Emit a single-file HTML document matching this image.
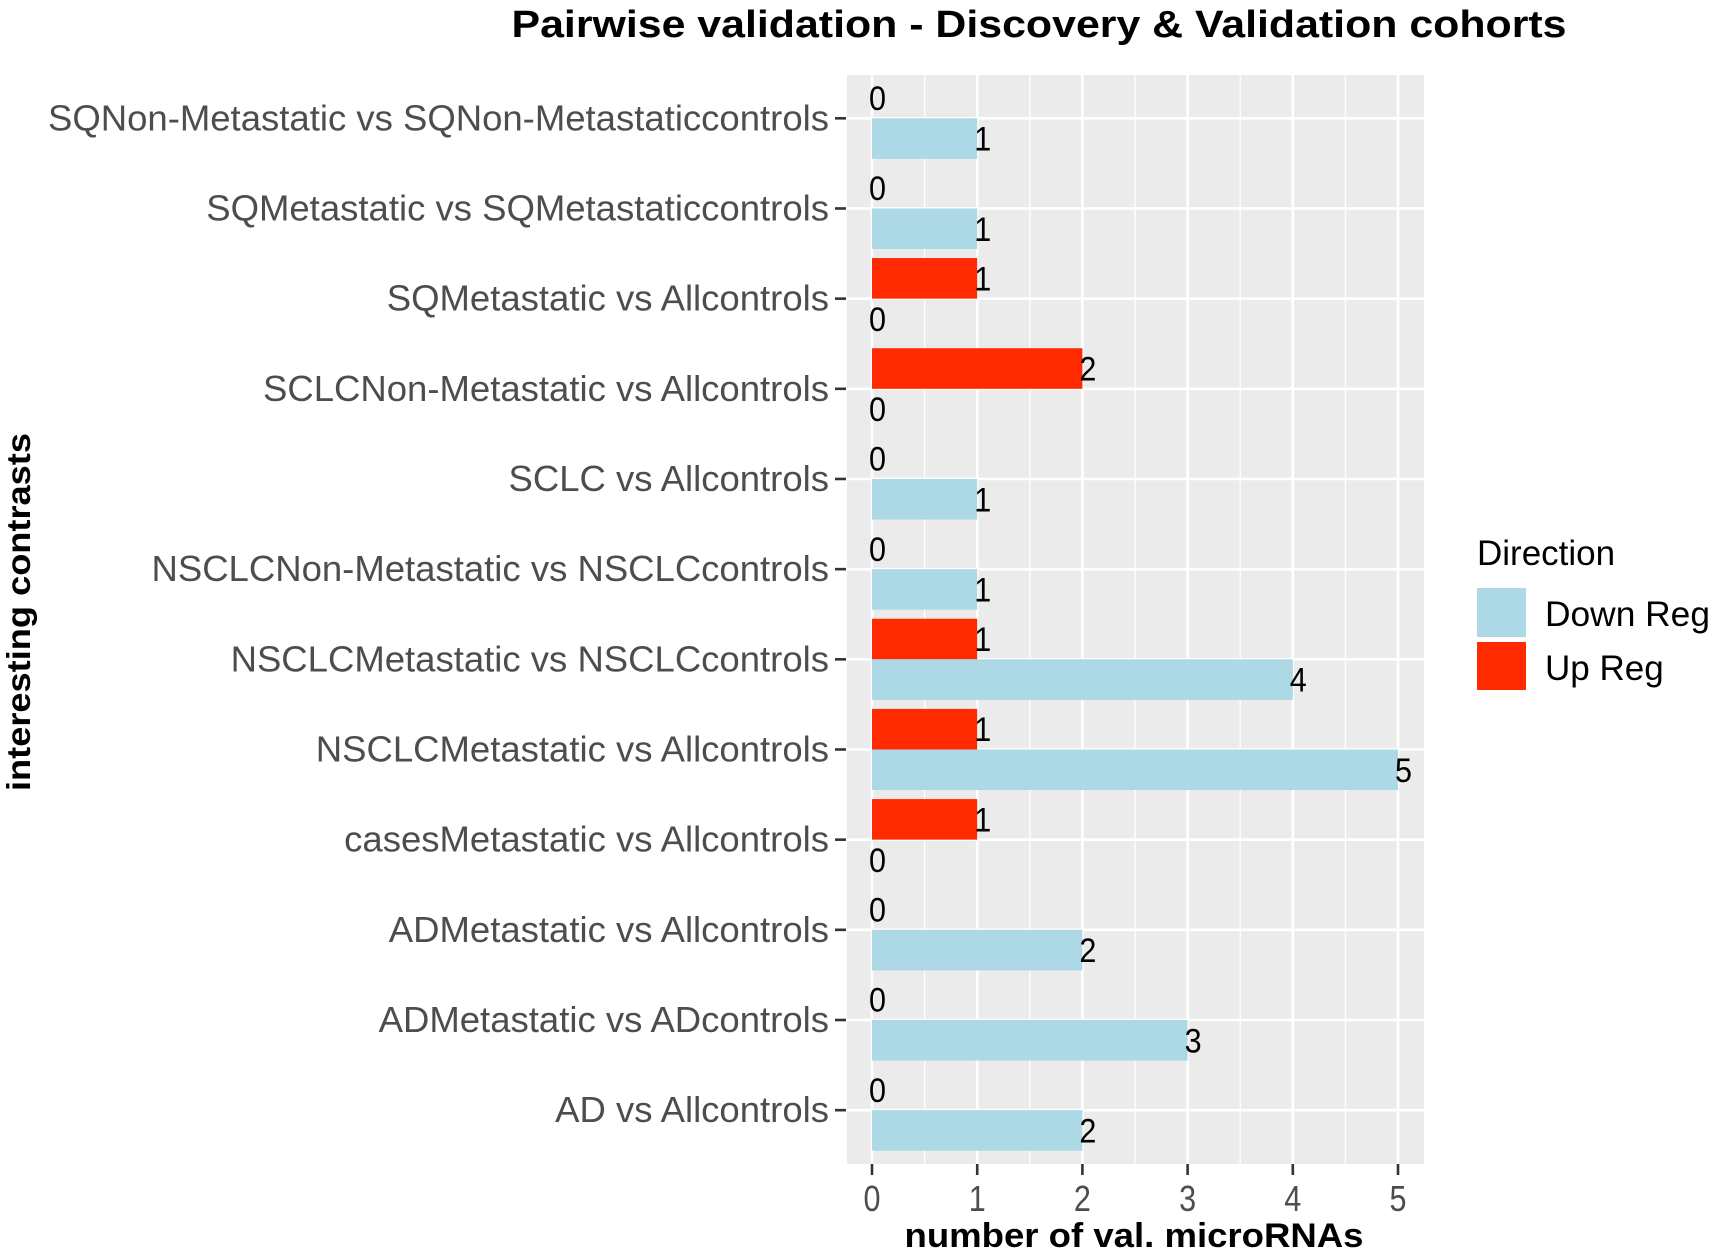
<!DOCTYPE html>
<html><head><meta charset="utf-8"><style>
html,body{margin:0;padding:0;background:#fff;}
svg{display:block;font-family:"Liberation Sans",Arial,sans-serif;}
</style></head><body>
<svg id="chart" width="1718" height="1254" viewBox="0 0 1718 1254">
<text x="1039" y="37" text-anchor="middle" font-size="38" font-weight="bold" textLength="1055" lengthAdjust="spacingAndGlyphs">Pairwise validation - Discovery &amp; Validation cohorts</text>
<rect x="847" y="75" width="577" height="1089" fill="#ebebeb"/>
<g id="grid"></g><g id="bars"></g><g id="labels"></g><g id="yaxis"></g><g id="xaxis"></g>
<text x="1134" y="1247" text-anchor="middle" font-size="34" font-weight="bold" textLength="459" lengthAdjust="spacingAndGlyphs">number of val. microRNAs</text>
<text transform="translate(30,612) rotate(-90)" text-anchor="middle" font-size="33" font-weight="bold" textLength="358" lengthAdjust="spacingAndGlyphs">interesting contrasts</text>
<g>
<text x="1477" y="565" font-size="35" fill="#000">Direction</text>
<rect x="1477" y="588" width="49" height="49" fill="#add8e6"/>
<text x="1545" y="626" font-size="35" fill="#000" textLength="165" lengthAdjust="spacingAndGlyphs">Down Reg</text>
<rect x="1477" y="642" width="49" height="48" fill="#ff2a00"/>
<text x="1545" y="680" font-size="35" fill="#000">Up Reg</text>
</g>
</svg>
<script>
const categories = ["SQNon-Metastatic vs SQNon-Metastaticcontrols","SQMetastatic vs SQMetastaticcontrols","SQMetastatic vs Allcontrols","SCLCNon-Metastatic vs Allcontrols","SCLC vs Allcontrols","NSCLCNon-Metastatic vs NSCLCcontrols","NSCLCMetastatic vs NSCLCcontrols","NSCLCMetastatic vs Allcontrols","casesMetastatic vs Allcontrols","ADMetastatic vs Allcontrols","ADMetastatic vs ADcontrols","AD vs Allcontrols"];
const downReg = [1,1,0,0,1,1,4,5,0,2,3,2];
const upReg = [0,0,1,2,0,0,1,1,1,0,0,0];
const xTicks = [0,1,2,3,4,5];

const NS="http://www.w3.org/2000/svg";
const x0=872, unit=105.2, yTop=118.3, step=90.17, band=step*0.9;
function xs(v){return x0+v*unit;}
function ys(i){return yTop+i*step;}
function mk(tag,attrs,parent){const e=document.createElementNS(NS,tag);for(const k in attrs)e.setAttribute(k,attrs[k]);parent.appendChild(e);return e;}
const grid=document.getElementById('grid'),bars=document.getElementById('bars'),labels=document.getElementById('labels'),yaxis=document.getElementById('yaxis'),xaxis=document.getElementById('xaxis');
for(let v=-0.5;v<=5.5;v+=1){const x=xs(v);if(x<847||x>1424)continue;
 const l=mk('line',{x1:x,x2:x,y1:75,y2:1164,stroke:'#fff','stroke-width':1.3},grid);
 
 }
xTicks.forEach(v=>{const l=mk('line',{x1:xs(v),x2:xs(v),y1:75,y2:1164,stroke:'#fff','stroke-width':2.6},grid);
 
 
 const t=mk('line',{x1:xs(v),x2:xs(v),y1:1164,y2:1175,stroke:'#333','stroke-width':2.6},xaxis);
 
 
 const tx=mk('text',{x:xs(v),y:1211,'text-anchor':'middle','font-size':36,fill:'#4d4d4d',textLength:17,lengthAdjust:'spacingAndGlyphs'},xaxis);
 tx.textContent=v;
 
 });
const lbls=[];
categories.forEach((c,i)=>{const y=ys(i);
 const g=mk('line',{x1:847,x2:1424,y1:y,y2:y,stroke:'#fff','stroke-width':2.6},grid);
 
 
 const t=mk('line',{x1:835,x2:846,y1:y,y2:y,stroke:'#333','stroke-width':2.6},yaxis);
 
 
 const tx=mk('text',{x:829,y:y+12,'text-anchor':'end','font-size':36,fill:'#4d4d4d'},yaxis);
 tx.textContent=c;
 
 
 lbls.push(tx);
 const h=band/2;
 [[upReg[i],y-h,'#ff2a00','bar-up'],[downReg[i],y,'#add8e6','bar-down']].forEach(([v,top,col,nm])=>{
  if(v>0){const r=mk('rect',{x:xs(0),y:top,width:xs(v)-xs(0),height:h,fill:col},bars);
   
   }
  const lt=mk('text',{x:xs(v)-3,y:top+h/2+12,'font-size':34,fill:'#000',textLength:17,lengthAdjust:'spacingAndGlyphs'},labels);
  lt.textContent=v;
  
  
 });
});
const w0=lbls[0].getComputedTextLength();const f=781/w0;
lbls.forEach(t=>{const w=t.getComputedTextLength();t.setAttribute('textLength',w*f);t.setAttribute('lengthAdjust','spacingAndGlyphs');});
</script>
</body></html>
